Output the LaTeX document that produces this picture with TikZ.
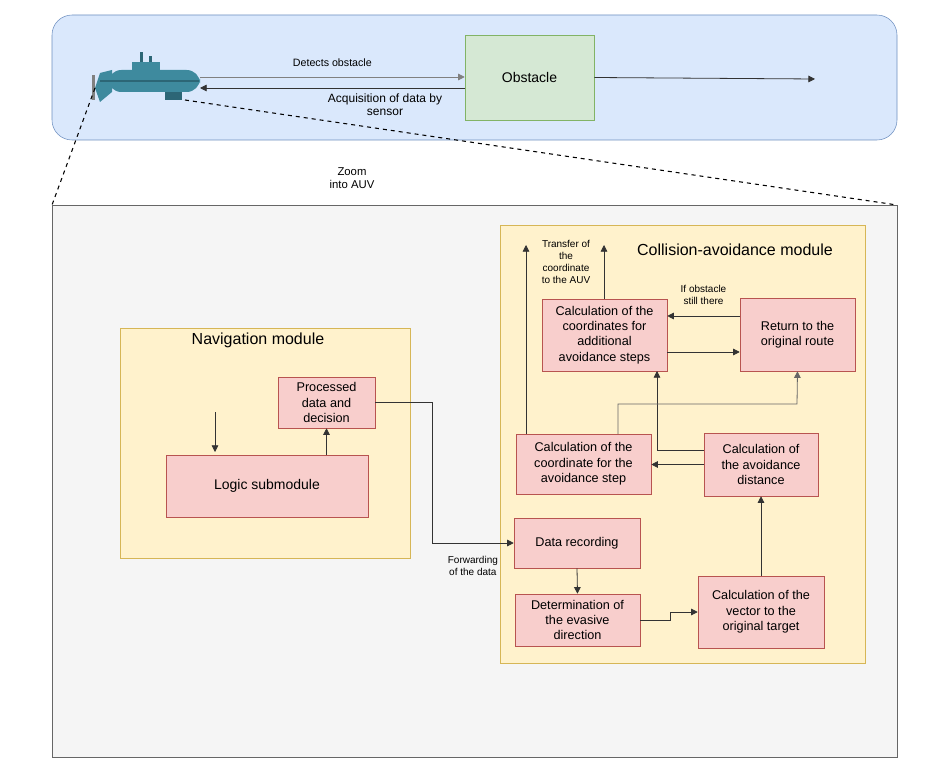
\documentclass[tikz,border=0pt]{standalone}
\usepackage{fontspec}
\setmainfont{Liberation Sans}
\usetikzlibrary{arrows.meta}
\definecolor{skyfill}{HTML}{DAE8FC}
\definecolor{skyline}{HTML}{6C8EBF}
\definecolor{obsfill}{HTML}{D5E8D4}
\definecolor{obsline}{HTML}{82B366}
\definecolor{modfill}{HTML}{FFF2CC}
\definecolor{modline}{HTML}{D6B656}
\definecolor{stepfill}{HTML}{F8CECC}
\definecolor{stepline}{HTML}{B85450}
\definecolor{subcol}{HTML}{3E8A9E}
\definecolor{subdark}{HTML}{2C6676}
\tikzset{
  task/.style={draw=stepline, fill=stepfill, align=center, inner sep=0pt, font=\fontsize{9.5}{11.5}\selectfont},
  module/.style={draw=modline, fill=modfill},
  flow/.style={-{Triangle[length=5pt,width=5pt]}, draw=black!80, line width=0.6pt},
  note/.style={align=center, font=\fontsize{7.5}{9}\selectfont}
}
\begin{document}
\begin{tikzpicture}[x=0.75pt,y=-0.75pt]
  \useasboundingbox (0,0) rectangle (938,773);

  % sea with obstacle
  \draw[skyline, fill=skyfill, rounded corners=15pt] (52,15) rectangle (897,140);
  \node[draw=obsline, fill=obsfill, minimum width=129*0.75pt, minimum height=85*0.75pt,
        font=\fontsize{10.5}{12}\selectfont] (obst) at (529.5,77.5) {Obstacle};
  \coordinate (far) at (815,79);
  \draw[flow] (obst.east) -- (far);

  % submarine
  \fill[subcol] (100,73) -- (95,88) -- (100,102) -- (112,92) -- (112,70) -- cycle;
  \fill[gray] (92,75) rectangle (95,100);
  \fill[subcol, rounded corners=10pt] (108,70) rectangle (200,92);
  \fill[subcol] (132,70) rectangle (160,62);
  \fill[subdark] (140,62) rectangle (143,52);
  \fill[subdark] (149,62) rectangle (152,56);
  \fill[subdark] (165,92) rectangle (182,100);
  \draw[subdark, line width=1pt] (100,81) -- (199,81);
  \coordinate (nose) at (200,77);
  \coordinate (noseb) at (200,88);
  \coordinate (tail) at (95,88);
  \coordinate (belly) at (185,100);

  \draw[flow, draw=gray] (nose) -- node[above=4pt, note, font=\fontsize{8}{9}\selectfont]{Detects obstacle} (nose -| obst.west);
  \draw[flow] (noseb -| obst.west) -- (noseb);
  \node[note, font=\fontsize{9}{10}\selectfont] (acq) at (385,105) {Acquisition of data by\\sensor};

  % zoom lines
  \draw[dashed, thick] (tail) -- (52,205);
  \draw[dashed, thick] (belly) -- (897,205);
  \node[note, font=\fontsize{8.5}{10}\selectfont] (zoom) at (352,178) {Zoom\\into AUV};

  % AUV inside
  \draw[black!60, fill=black!4] (52,205) rectangle (897,757);

  % navigation module
  \draw[module] (120,328) rectangle (410,558);
  \node[font=\fontsize{12}{14}\selectfont] (navt) at (258,340) {Navigation module};
  \node[task, minimum width=97*0.75pt, minimum height=51*0.75pt] (proc) at (326.5,402.5) {Processed\\data and\\decision};
  \node[task, minimum width=202*0.75pt, minimum height=62*0.75pt, font=\fontsize{10.5}{12}\selectfont] (logic) at (267,486) {Logic submodule};
  \coordinate (inlet) at (215,412);
  \draw[flow] (inlet) -- (215,452);
  \draw[flow] (logic.north -| proc) -- (proc.south);

  % collision-avoidance module
  \draw[module] (500,225) rectangle (865,663);
  \node[font=\fontsize{12}{14}\selectfont] (cat) at (735,250) {Collision-avoidance module};
  \node[task, minimum width=126*0.75pt, minimum height=50*0.75pt] (rec) at (577,543) {Data recording};
  \node[task, minimum width=125*0.75pt, minimum height=52*0.75pt] (dir) at (577.5,620) {Determination of\\the evasive\\direction};
  \node[task, minimum width=126*0.75pt, minimum height=72*0.75pt] (vec) at (761,612) {Calculation of the\\vector to the\\original target};
  \node[task, minimum width=114*0.75pt, minimum height=63*0.75pt] (dist) at (761,464.5) {Calculation of\\the avoidance\\distance};
  \node[task, minimum width=135*0.75pt, minimum height=60*0.75pt] (stepc) at (583.5,464) {Calculation of the\\coordinate for the\\avoidance step};
  \node[task, minimum width=125*0.75pt, minimum height=72*0.75pt] (addc) at (604.5,335) {Calculation of the\\coordinates for\\additional\\avoidance steps};
  \node[task, minimum width=115*0.75pt, minimum height=73*0.75pt] (ret) at (797.5,334.5) {Return to the\\original route};

  \draw[flow] (proc.east) -- (432,402.5) |- node[pos=0.75, below=6pt, note]{Forwarding\\of the data} (rec.west);
  \draw[flow] (rec.south) -- (dir.north);
  \draw[flow] (dir.east) -- (670,620) |- (vec.west |- 0,612);
  \draw[flow] (vec.north) -- (dist.south);
  \draw[flow] (dist.west) -- (stepc.east |- dist.west);
  \draw[flow] (dist.west |- 0,450) -| (657,371);
  \draw[flow, draw=black!60] (618,434) |- (797,404) -- (ret.south);
  \draw[flow] (addc.east |- 0,352) -- (ret.west |- 0,352);
  \draw[flow] (ret.west |- 0,316) -- node[above=5pt, note]{If obstacle\\still there} (addc.east |- 0,316);
  \coordinate (outa) at (604,245);
  \coordinate (outb) at (526,245);
  \draw[flow] (addc.north -| outa) -- (outa);
  \draw[flow] (stepc.north -| outb) -- (outb);
  \node[note] (transfer) at (566,262) {Transfer of\\the\\coordinate\\to the AUV};
\end{tikzpicture}
\end{document}
